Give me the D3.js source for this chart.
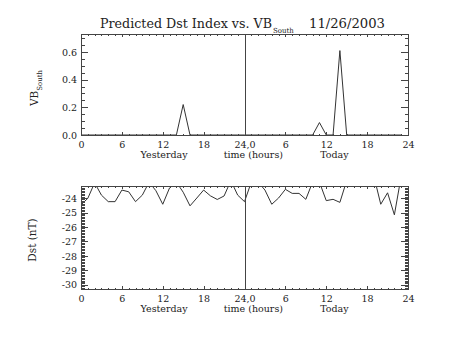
<!DOCTYPE html>
<html>
<head>
<meta charset="utf-8">
<script src="https://cdn.jsdelivr.net/npm/d3@7"></script>
<style>
  html, body { margin: 0; padding: 0; background: #fff; }
  svg { display: block; }
  text { font-family: "DejaVu Serif", "Liberation Serif", serif; fill: #222; }
</style>
</head>
<body>
<script>
// ---- data ----
const hours = d3.range(48);
const vbSouth = [0,0,0,0,0,0,0,0,0,0,0,0,0,0,0,0.22,0,0,0,0,0,0,0,0,
                 0,0,0,0,0,0,0,0,0,0,0,0.09,0,0,0.61,0,0,0,0,0,0,0,0,0];
const dst = [-24.47,-24.02,-22.95,-23.8,-24.25,-24.25,-23.45,-23.57,-24.25,-23.8,
             -22.9,-23.5,-24.43,-23.3,-22.9,-23.6,-24.54,-24.0,-23.45,-23.85,
             -24.1,-23.86,-22.8,-23.8,-24.25,-22.9,-22.9,-23.45,-24.43,-24.0,
             -23.4,-23.68,-23.68,-24.09,-22.9,-22.9,-24.18,-24.09,-24.3,-22.8,
             -22.8,-22.8,-22.8,-22.5,-24.43,-23.64,-25.16,-22.5];
const xTicks = [0,6,12,18,24,30,36,42,48];
const xTickLabels = ["0","6","12","18","24,0","6","12","18","24"];
const dayBoundary = [24];
const vbTicks = [0,0.2,0.4,0.6];
const vbTickLabels = ["0.0","0.2","0.4","0.6"];
const dstTicks = [-24,-25,-26,-27,-28,-29,-30];
const dstTickLabels = ["-24","-25","-26","-27","-28","-29","-30"];
const dayLabels = ["Yesterday","time (hours)","Today"];
const dayLabelPos = [12.2, 25.3, 37.2];

const W = 453, H = 340;
const svg = d3.select("body").append("svg").attr("width", W).attr("height", H);
const x = d3.scaleLinear().domain([0,48]).range([81,408]);

function panel(top, bottom, yScale, majors, majorLabels, minorStep, values) {
  const g = svg.append("g");
  const axStyle = sel => { sel.select(".domain").remove(); sel.selectAll("line").attr("stroke","#444").attr("shape-rendering","crispEdges"); };
  const h = bottom - top;
  // data line, clipped to plot
  const cid = "clip" + top;
  svg.append("defs").append("clipPath").attr("id", cid)
    .append("rect").attr("x",81).attr("y",top).attr("width",327).attr("height",h);
  const line = d3.line().x((d,i)=>x(hours[i])).y(d=>yScale(d));
  g.append("path").datum(values).attr("d",line).attr("fill","none").attr("stroke","#333")
    .attr("stroke-width",1).attr("clip-path",`url(#${cid})`);
  // day boundary line as a full-height tick
  g.append("g").attr("transform",`translate(0,${bottom})`)
    .call(d3.axisBottom(x).tickValues(dayBoundary).tickSize(-h).tickFormat(""))
    .call(axStyle);
  // x ticks
  const minorX = d3.range(0,49,1);
  g.append("g").attr("transform",`translate(0,${bottom})`)
    .call(d3.axisBottom(x).tickValues(minorX).tickSize(-1.5).tickFormat("")).call(axStyle);
  g.append("g").attr("transform",`translate(0,${top})`)
    .call(d3.axisTop(x).tickValues(minorX).tickSize(-1.5).tickFormat("")).call(axStyle);
  const xb = g.append("g").attr("transform",`translate(0,${bottom})`)
    .call(d3.axisBottom(x).tickValues(xTicks).tickSize(-3).tickPadding(6)
      .tickFormat((d,i)=>xTickLabels[i])).call(axStyle);
  xb.selectAll("text").attr("font-size","9.5px").attr("fill","#222").attr("dy","0.71em");
  g.append("g").attr("transform",`translate(0,${top})`)
    .call(d3.axisTop(x).tickValues(xTicks).tickSize(-3).tickFormat("")).call(axStyle);
  // day labels
  g.selectAll("text.day").data(dayLabels).enter().append("text").attr("class","day")
    .attr("x",(d,i)=>x(dayLabelPos[i])).attr("y",bottom+23).attr("text-anchor","middle")
    .attr("font-size","9.5px").text(d=>d);
  // y ticks
  const d0 = yScale.domain();
  const lo = Math.min(d0[0],d0[1]), hi = Math.max(d0[0],d0[1]);
  const minorY = d3.range(Math.ceil(lo/minorStep-1e-6), Math.floor(hi/minorStep+1e-6)+1).map(k=>+(k*minorStep).toFixed(4));
  g.append("g").attr("transform","translate(81,0)")
    .call(d3.axisLeft(yScale).tickValues(minorY).tickSize(-3.5).tickFormat("")).call(axStyle);
  g.append("g").attr("transform","translate(408,0)")
    .call(d3.axisRight(yScale).tickValues(minorY).tickSize(-3.5).tickFormat("")).call(axStyle);
  const yl = g.append("g").attr("transform","translate(81,0)")
    .call(d3.axisLeft(yScale).tickValues(majors).tickSize(-7).tickPadding(4)
      .tickFormat((d,i)=>majorLabels[i])).call(axStyle);
  yl.selectAll("text").attr("font-size","9.5px").attr("fill","#222");
  g.append("g").attr("transform","translate(408,0)")
    .call(d3.axisRight(yScale).tickValues(majors).tickSize(-7).tickFormat("")).call(axStyle);
  // frame
  g.append("rect").attr("x",81).attr("y",top).attr("width",327).attr("height",h)
    .attr("fill","none").attr("stroke","#444").attr("stroke-width",1).attr("shape-rendering","crispEdges");
  return g;
}

const yTop = d3.scaleLinear().domain([0,0.73]).range([135,34]);
panel(34,135,yTop,vbTicks,vbTickLabels,0.05,vbSouth);
const yBot = d3.scaleLinear().domain([-30.28,-23.17]).range([289,186]);
panel(186,289,yBot,dstTicks,dstTickLabels,0.1,dst);

// y titles
const t1 = svg.append("text").attr("transform","translate(38,88) rotate(-90)")
  .attr("text-anchor","middle").attr("font-size","10.5px");
t1.append("tspan").text("VB");
t1.append("tspan").attr("dy","3.5").attr("font-size","7px").text("South");
svg.append("text").attr("transform","translate(36,240) rotate(-90)")
  .attr("text-anchor","middle").attr("font-size","10.5px").text("Dst (nT)");

// title
const tt = svg.append("text").attr("x",100).attr("y",28).attr("font-size","12px");
tt.append("tspan").attr("textLength",172).attr("lengthAdjust","spacingAndGlyphs").text("Predicted Dst Index vs. VB");
tt.append("tspan").attr("x",273).attr("dy","5").attr("font-size","7px").text("South");
svg.append("text").attr("x",309).attr("y",28).attr("font-size","12.5px")
  .attr("textLength",76).attr("lengthAdjust","spacingAndGlyphs").text("11/26/2003");
</script>
</body>
</html>
